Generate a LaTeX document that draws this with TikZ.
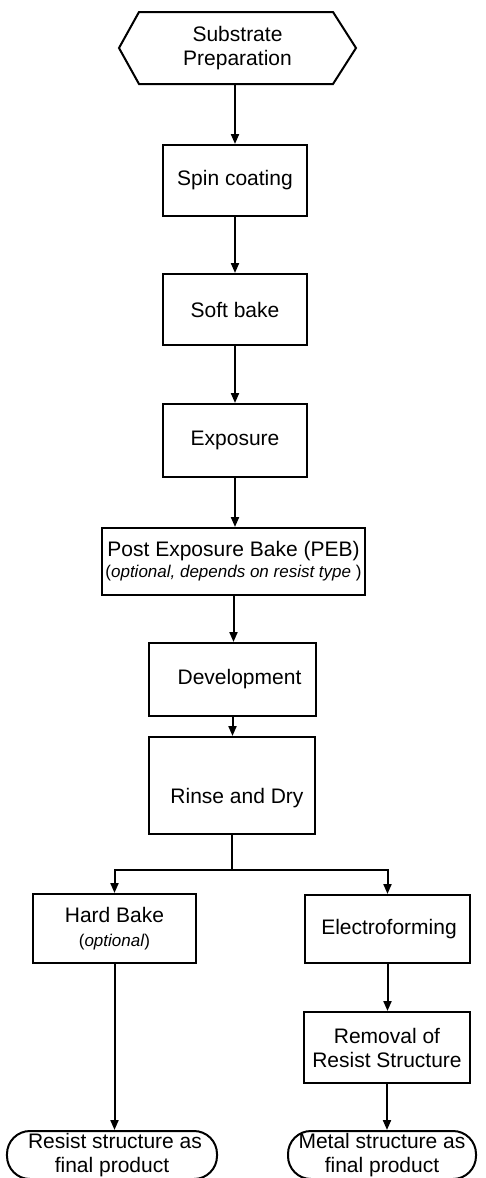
\documentclass[tikz,border=0pt]{standalone}
\usepackage{fontspec}
\setmainfont{Liberation Sans}
\usetikzlibrary{arrows.meta,calc}
\tikzset{
  ln/.style={line width=2bp, black},
  box/.style={ln, draw, rectangle, inner sep=0pt, align=center,
    font=\fontsize{21bp}{24bp}\selectfont},
  term/.style={box, rounded corners=23bp},
  arr/.style={ln, -{Triangle[length=10bp,width=8bp]}}
}
\newcommand{\smallit}[1]{{\fontsize{17bp}{20bp}\selectfont(\textit{#1})}}
\begin{document}
\begin{tikzpicture}[x=1bp,y=-1bp]
\useasboundingbox (0,0) rectangle (486,1178);
% start hexagon
\node[box, draw=none, minimum width=235bp, minimum height=70bp] (hex) at (237.5,48) {Substrate\\Preparation};
\draw[ln] ($(hex.north west)+(20,0)$) -- ($(hex.north east)+(-23,0)$) -- (hex.east)
  -- ($(hex.south east)+(-23,0)$) -- ($(hex.south west)+(20,0)$) -- (hex.west) -- cycle;
% process boxes
\node[box, minimum width=144bp, minimum height=71bp] (spin) at (235,180.5) {Spin coating};
\node[box, minimum width=144bp, minimum height=71bp] (soft) at (235,309.5) {Soft bake};
\node[box, minimum width=144bp, minimum height=73bp] (expo) at (235,440.5) {Exposure};
\node[box, minimum width=263bp, minimum height=67bp] (peb) at (233.5,561.5)
  {Post Exposure Bake (PEB)\\[-3bp]{\fontsize{17bp}{20bp}\selectfont(\textit{optional, depends on resist type} )}};
\node[box, minimum width=167bp, minimum height=73bp] (dev) at (232.5,679.5) {\hspace*{14bp}Development};
\node[box, minimum width=166bp, minimum height=97bp,
  label={[font=\fontsize{21bp}{24bp}\selectfont, xshift=5bp, yshift=-12.5bp]center:Rinse and Dry}] (rinse) at (232,785.5) {};
\node[box, minimum width=163bp, minimum height=69bp] (hard) at (114.5,928.5) {Hard Bake\\\smallit{optional}};
\node[box, minimum width=165bp, minimum height=68bp] (elec) at (387.5,929) {\hspace*{3bp}Electroforming};
\node[box, minimum width=166bp, minimum height=71bp] (remov) at (387,1047.5) {Removal of\\Resist Structure};
% terminals
\node[term, minimum width=210bp, minimum height=48bp] (termL) at (112,1155) {\hspace*{6bp}Resist structure as\\final product};
\node[term, minimum width=188bp, minimum height=48bp] (termR) at (382,1155) {Metal structure as\\final product};
% connectors
\draw[arr] (hex.south -| spin.north) -- (spin.north);
\draw[arr] (spin.south) -- (spin.south |- soft.north);
\draw[arr] (soft.south) -- (soft.south |- expo.north);
\draw[arr] (expo.south) -- (expo.south |- peb.north);
\draw[arr] (peb.south) -- (peb.south |- dev.north);
\draw[arr] (dev.south) -- (dev.south |- rinse.north);
\draw[ln] (rinse.south) -- ++(0,35) coordinate (j);
\draw[arr] (j) -| (hard.north);
\draw[arr] (j) -| (elec.north);
\draw[arr] (elec.south) -- (elec.south |- remov.north);
\draw[arr] (hard.south) -- (hard.south |- termL.north);
\draw[arr] (remov.south) -- (remov.south |- termR.north);
\end{tikzpicture}
\end{document}
